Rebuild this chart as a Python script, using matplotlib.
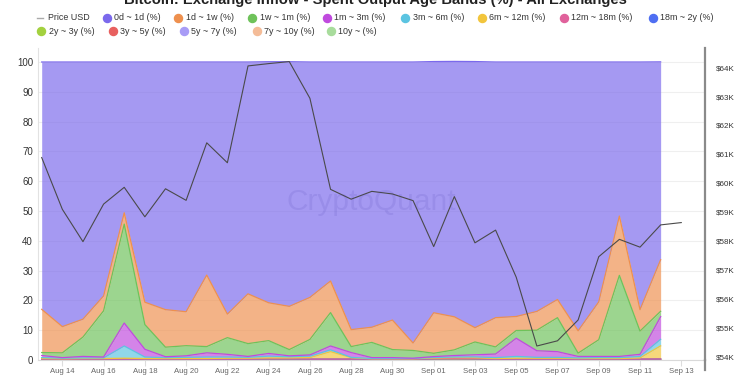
import numpy as np
import pandas as pd
import matplotlib
matplotlib.use("Agg")
import matplotlib.pyplot as plt
from matplotlib.lines import Line2D
from matplotlib.ticker import FuncFormatter

plt.rcParams['font.family'] = ['Liberation Sans', 'DejaVu Sans']

W, H = 750, 375

# ---- data ----
dates = pd.date_range('2024-08-13', '2024-09-12')
price_dates = pd.date_range('2024-08-13', '2024-09-13')

price_usd = [60890, 59100, 57980, 59280, 59860, 58840, 59810, 59410, 61400, 60710,
             64060, 64140, 64210, 62940, 59790, 59450, 59720, 59630, 59400, 57810,
             59540, 57940, 58380, 56750, 54370, 54550, 55270, 57460, 58060, 57790,
             58560, 58640]

band_0d_1d = [83.0, 88.8, 86.3, 78.5, 50.6, 80.6, 83.1, 83.8, 71.5, 84.6, 77.8,
              80.9, 82.1, 79.0, 73.5, 89.8, 89.0, 86.6, 94.3, 84.3, 85.7, 89.3,
              85.8, 85.4, 83.7, 79.7, 90.2, 80.5, 51.7, 83.1, 66.4]
band_1d_1w = [14.5, 8.8, 6.0, 5.0, 3.8, 7.5, 12.6, 11.4, 24.0, 7.9, 16.7, 12.7,
              14.5, 14.1, 10.6, 5.7, 5.1, 9.9, 2.5, 13.6, 11.1, 4.8, 9.8, 4.7,
              6.3, 6.1, 7.5, 12.7, 19.9, 7.2, 17.3]
band_1w_1m = [1.0, 1.6, 6.5, 15.5, 33.2, 8.3, 3.2, 3.4, 2.1, 5.6, 4.3, 4.3, 2.1,
              5.2, 11.2, 2.0, 5.1, 2.7, 2.6, 1.1, 1.9, 4.3, 2.4, 2.6, 6.9, 11.4,
              1.1, 5.6, 27.2, 7.8, 1.8]
band_1m_3m = [0.7, 0.2, 0.5, 0.3, 7.7, 2.6, 0.3, 0.5, 1.4, 0.9, 0.3, 0.9, 0.3,
              0.4, 1.3, 1.6, 0.3, 0.3, 0.1, 0.3, 0.5, 0.7, 1.2, 6.1, 2.2, 1.9,
              0.5, 0.4, 0.4, 0.7, 7.6]
band_3m_6m = [0.3, 0.2, 0.2, 0.2, 4.1, 0.5, 0.3, 0.4, 0.5, 0.4, 0.3, 0.6, 0.4,
              0.5, 0.6, 0.1, 0.1, 0.1, 0.1, 0.2, 0.2, 0.3, 0.3, 0.6, 0.3, 0.3,
              0.2, 0.3, 0.3, 0.5, 2.2]
band_6m_12m = [0.2, 0.1, 0.2, 0.2, 0.3, 0.2, 0.2, 0.2, 0.2, 0.3, 0.3, 0.3, 0.3,
               0.5, 2.5, 0.5, 0.1, 0.1, 0.1, 0.2, 0.3, 0.3, 0.2, 0.3, 0.3, 0.3,
               0.2, 0.2, 0.2, 0.4, 4.4]
band_12m_18m = [0.03] * 31
band_18m_2y = [0.04] * 31
band_2y_3y = [0.03] * 31
band_3y_5y = [0.1, 0.1, 0.1, 0.1, 0.1, 0.1, 0.1, 0.1, 0.1, 0.1, 0.1, 0.2, 0.2,
              0.1, 0.1, 0.1, 0.1, 0.1, 0.1, 0.25, 0.3, 0.25, 0.1, 0.1, 0.1, 0.1,
              0.1, 0.1, 0.1, 0.1, 0.15]
band_5y_7y = [0.02] * 31
band_7y_10y = [0.05] * 31
band_10y = [0.03] * 31

bands = [
    ('0d ~ 1d (%)', band_0d_1d, '#7b69ec'),
    ('1d ~ 1w (%)', band_1d_1w, '#ee904e'),
    ('1w ~ 1m (%)', band_1w_1m, '#6ec25a'),
    ('1m ~ 3m (%)', band_1m_3m, '#c04ade'),
    ('3m ~ 6m (%)', band_3m_6m, '#5bc4e1'),
    ('6m ~ 12m (%)', band_6m_12m, '#f2c53c'),
    ('12m ~ 18m (%)', band_12m_18m, '#e0619b'),
    ('18m ~ 2y (%)', band_18m_2y, '#4e6ef2'),
    ('2y ~ 3y (%)', band_2y_3y, '#a3d13f'),
    ('3y ~ 5y (%)', band_3y_5y, '#e8605f'),
    ('5y ~ 7y (%)', band_5y_7y, '#a89cf6'),
    ('7y ~ 10y (%)', band_7y_10y, '#f4bc98'),
    ('10y ~ (%)', band_10y, '#a8dc9c'),
]

# ---- figure ----
fig = plt.figure(figsize=(W / 100, H / 100), dpi=100)
ax = fig.add_axes([38 / W, (H - 360) / H, (705 - 38) / W, (360 - 48) / H])

# stack from the oldest band at the bottom to 0d~1d on top
stack = bands[::-1]
bottom = np.zeros(len(dates))
for label, vals, color in stack:
    top = bottom + np.array(vals)
    ax.fill_between(dates, bottom, top, color=color, alpha=0.68, lw=0, zorder=2)
    ax.plot(dates, top, color=color, lw=0.9, zorder=3)
    bottom = top

ax.set_ylim(0, 100 * 312 / 298)
ax.set_xlim(dates[0] - pd.Timedelta(hours=4.3), dates[0] + pd.Timedelta(days=32.15))
ax.set_yticks(range(0, 101, 10))
ticks = pd.date_range('2024-08-14', '2024-09-13', freq='2D')
ax.set_xticks(ticks)
ax.set_xticklabels([d.strftime('%b %d') for d in ticks])
ax.yaxis.grid(True, color='#efefef', lw=0.8)
ax.set_axisbelow(True)
for s in ['top', 'right']:
    ax.spines[s].set_visible(False)
ax.spines['left'].set_color('#e2e2e2')
ax.spines['bottom'].set_color('#d9d9d9')
ax.tick_params(axis='x', length=4, color='#dddddd', labelsize=5.6, labelcolor='#666666', pad=2)
ax.tick_params(axis='y', length=0, labelsize=7, labelcolor='#333333', pad=3.6)

ax2 = ax.twinx()
ax2.plot(price_dates, price_usd, color='#4a4a4a', lw=0.8, zorder=5)
ax2.set_ylim(53886, 64680)
ax2.set_yticks(range(54000, 64001, 1000))
ax2.yaxis.set_major_formatter(FuncFormatter(lambda v, p: '${:.0f}K'.format(v / 1000)))
for s in ['top', 'left', 'bottom']:
    ax2.spines[s].set_visible(False)
ax2.spines['right'].set_color('#8a8a8a')
ax2.spines['right'].set_linewidth(1.6)
ax2.plot([1, 1], [-10 / 312, 0], transform=ax2.transAxes, color='#8a8a8a', lw=1.6, clip_on=False)
ax2.tick_params(axis='y', length=0, labelsize=5.8, labelcolor='#333333', pad=8)

# watermark
fig.text(371 / W, 1 - 202 / H, 'CryptoQuant', ha='center', va='center', fontsize=21.5,
         color='#4a3fb0', alpha=0.13)

# title (cut off at the top like the reference)
fig.text(0.5, 1 - 4 / H, 'Bitcoin: Exchange Inflow - Spent Output Age Bands (%) - All Exchanges',
         ha='center', va='baseline', fontsize=10.6, fontweight='bold', color='#222222')

# legend, two rows
row1_x = [41, 106.7, 178, 252, 327, 405, 481.7, 563.5, 653]
row2_x = [41.3, 112.5, 183.7, 256.7, 330.8]
row_y = [18, 31]
entries = [('Price USD', None)] + [(b[0], b[2]) for b in bands]
positions = [(x, row_y[0]) for x in row1_x] + [(x, row_y[1]) for x in row2_x]
for (label, color), (x, y) in zip(entries, positions):
    fy = 1 - y / H
    if color is None:
        fig.add_artist(Line2D([(x - 4) / W, (x + 2) / W], [fy, fy], color='#aaaaaa', lw=1,
                              transform=fig.transFigure))
    else:
        fig.add_artist(Line2D([x / W], [fy], marker='o', ms=5.8, color=color, lw=0,
                              transform=fig.transFigure))
    fig.text((x + 7.5) / W, fy, label, ha='left', va='center', fontsize=6.4, color='#333333')

fig.savefig('out.png', dpi=100)
